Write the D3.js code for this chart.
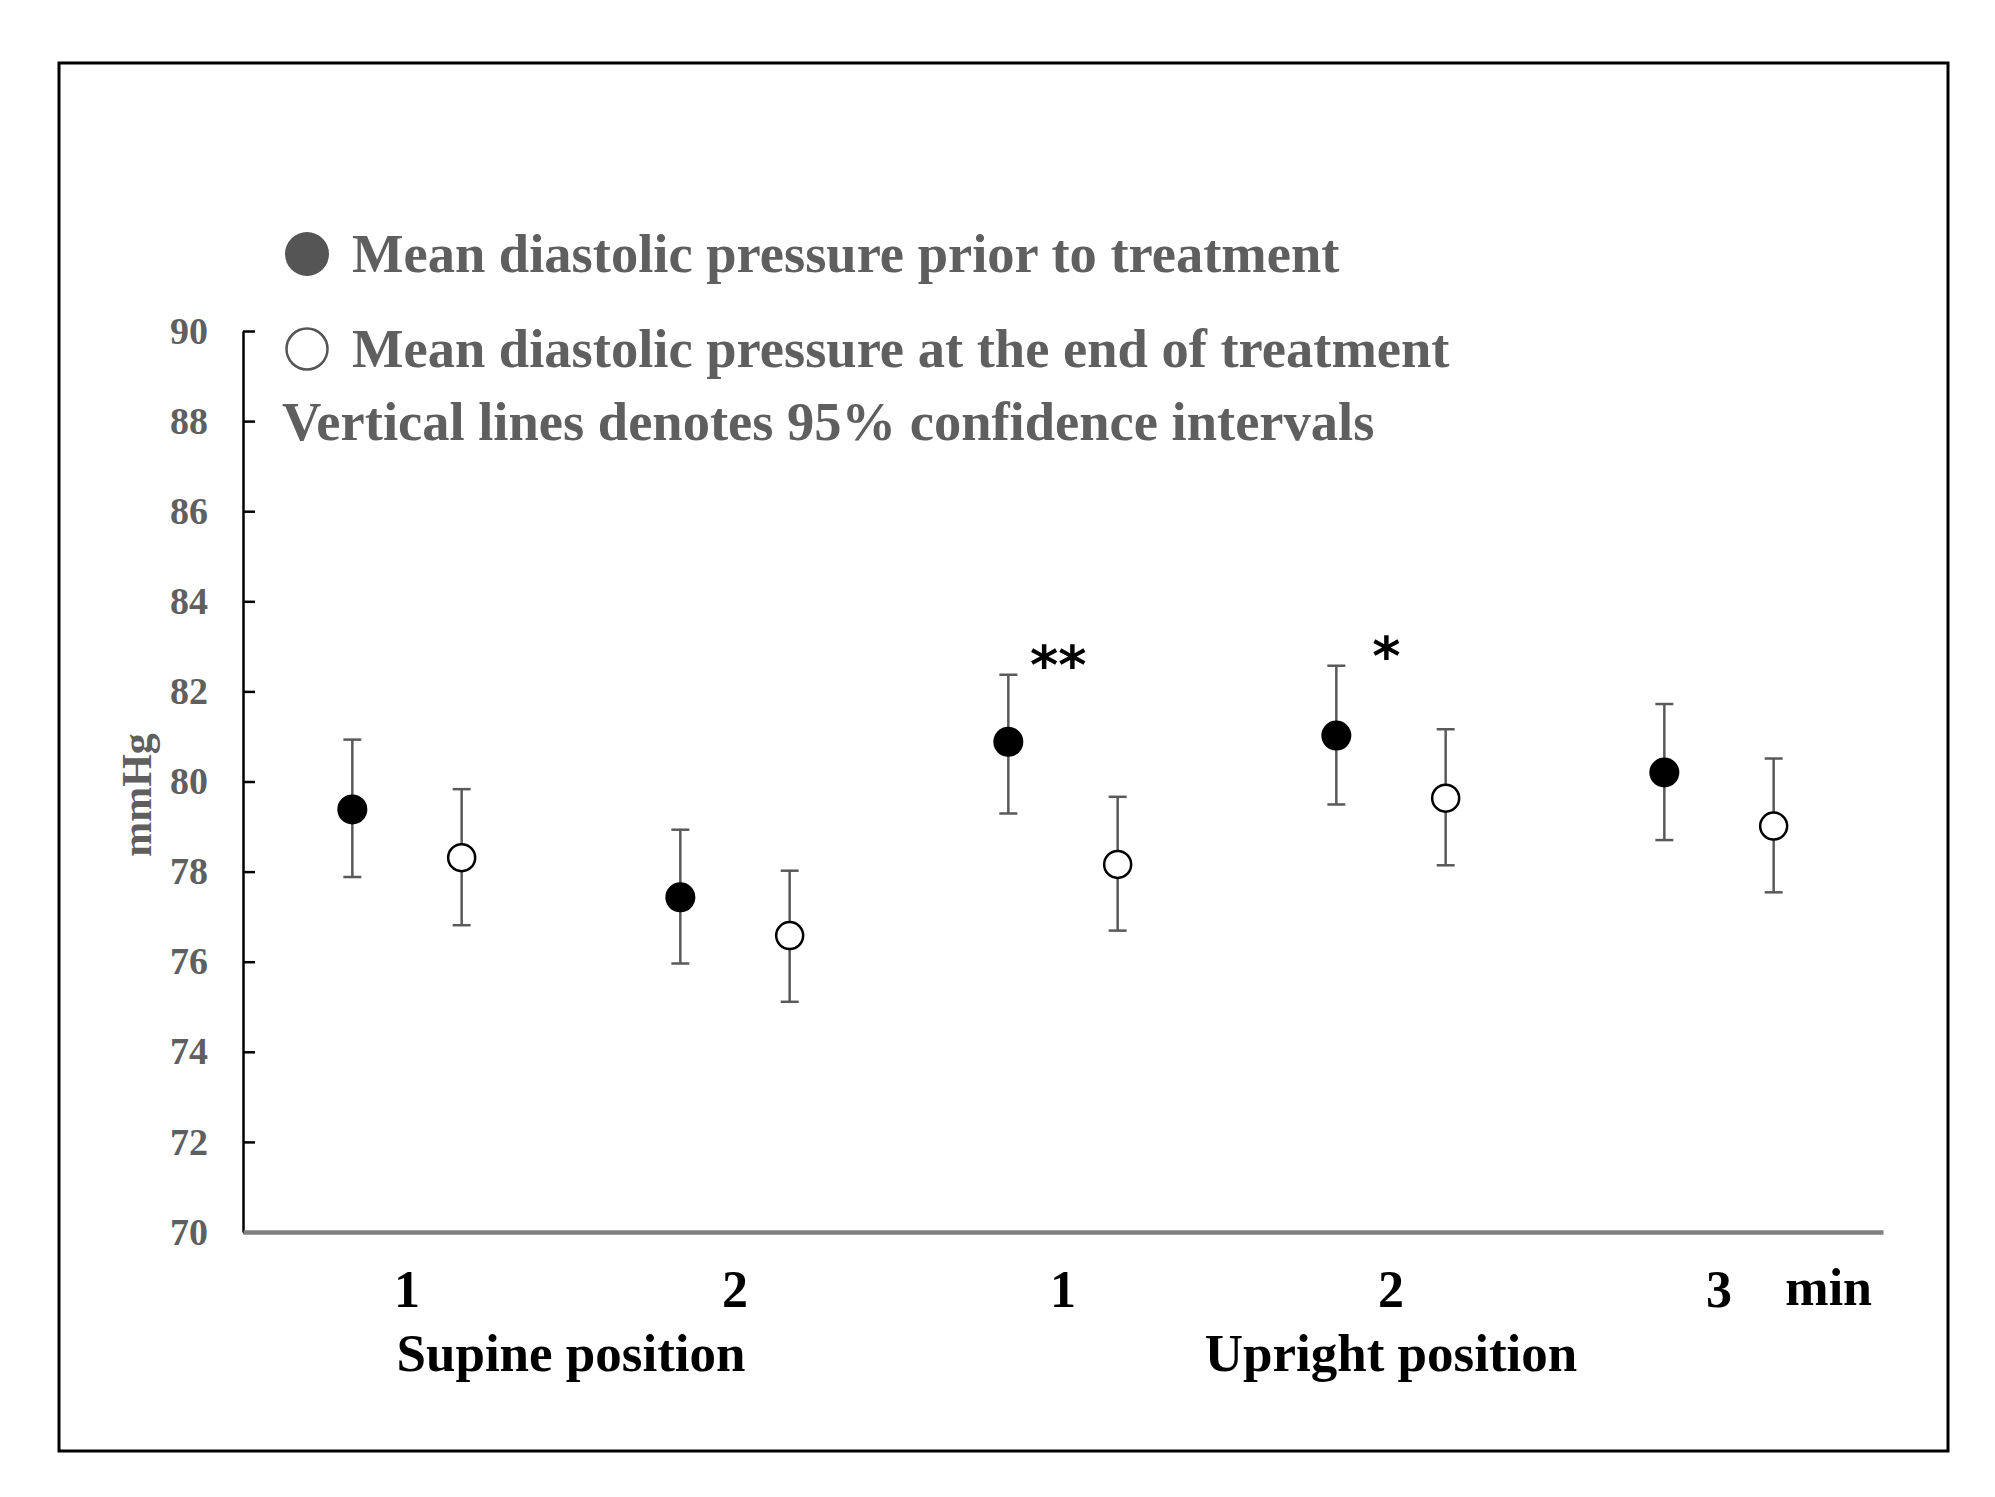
<!DOCTYPE html>
<html>
<head>
<meta charset="utf-8">
<script src="https://cdn.jsdelivr.net/npm/d3@7"></script>
<style>
  body { margin: 0; background: #fff; }
  text { font-family: "Liberation Serif", "Times New Roman", serif; font-weight: bold; }
</style>
</head>
<body>
<div id="chart"></div>
<script>
// data
const timeLabels = ["1", "2", "1", "2", "3"];
const positions = [
    { name: "Supine position", from: 0, to: 1 },
    { name: "Upright position", from: 2, to: 4 }
];
const series = ["before", "after"];
const legendLabels = [
    "Mean diastolic pressure prior to treatment",
    "Mean diastolic pressure at the end of treatment"
];
const legendNote = "Vertical lines denotes 95% confidence intervals";

const meanBefore = [79.38, 77.43, 80.88, 81.02, 80.20];
const lowBefore  = [77.88, 75.96, 79.29, 79.49, 78.70];
const highBefore = [80.93, 78.93, 82.37, 82.57, 81.72];

const meanAfter = [78.31, 76.58, 78.16, 79.63, 79.01];
const lowAfter  = [76.81, 75.11, 76.69, 78.14, 77.54];
const highAfter = [79.83, 78.02, 79.66, 81.16, 80.51];

const significance = ["", "", "**", "*", ""];
const yTicks = [70, 72, 74, 76, 78, 80, 82, 84, 86, 88, 90];

const W = 1995, H = 1497;
const plot = { left: 243, right: 1883, top: 331, bottom: 1232 };

const svg = d3.select("#chart")
    .append("svg")
    .attr("width", W)
    .attr("height", H);

// frame
svg.append("rect")
    .attr("x", 59).attr("y", 63)
    .attr("width", 1889).attr("height", 1388)
    .attr("fill", "none")
    .attr("stroke", "#000")
    .attr("stroke-width", 3);

// scales
const x = d3.scaleBand()
    .domain(d3.range(timeLabels.length))
    .range([plot.left, plot.right]);

const xs = d3.scalePoint()
    .domain(series)
    .range([0, x.bandwidth()])
    .padding(1);

const y = d3.scaleLinear()
    .domain([70, 90])
    .range([plot.bottom, plot.top]);

// y axis
const yAxis = svg.append("g")
    .attr("transform", `translate(${plot.left},0)`)
    .call(d3.axisLeft(y).tickValues(yTicks).tickSizeInner(-12).tickSizeOuter(0).tickPadding(35));
yAxis.select(".domain").attr("stroke", "#000").attr("stroke-width", 2.5);
yAxis.selectAll(".tick line").attr("stroke", "#000").attr("stroke-width", 2.5);
yAxis.selectAll(".tick text")
    .attr("fill", "#5f5f5f")
    .style("font-size", "38px")
    .style("font-family", "Liberation Serif");

// x axis
const xAxis = svg.append("g")
    .attr("transform", `translate(0,${plot.bottom})`)
    .call(d3.axisBottom(x).tickSize(0).tickPadding(38).tickFormat(i => timeLabels[i]));
xAxis.select(".domain").attr("stroke", "#808080").attr("stroke-width", 4.5);
xAxis.selectAll(".tick text")
    .attr("fill", "#000")
    .style("font-size", "52px")
    .style("font-family", "Liberation Serif");

svg.append("text")
    .attr("x", plot.right - 11)
    .attr("y", 1305)
    .attr("text-anchor", "end")
    .attr("fill", "#000")
    .style("font-size", "52px")
    .text("min");

// position labels
svg.selectAll(".pos")
    .data(positions)
    .enter()
    .append("text")
    .attr("class", "pos")
    .attr("x", d => d3.mean(d3.range(d.from, d.to + 1), i => x(i) + x.bandwidth() / 2))
    .attr("y", 1371)
    .attr("text-anchor", "middle")
    .attr("fill", "#000")
    .style("font-size", "53px")
    .text(d => d.name);

// y label
svg.append("text")
    .attr("transform", "translate(151,795) rotate(-90)")
    .attr("text-anchor", "middle")
    .attr("fill", "#5f5f5f")
    .style("font-size", "42px")
    .text("mmHg");

// data
const rows = d3.range(timeLabels.length).flatMap(i => [
    { i, s: "before", m: meanBefore[i], lo: lowBefore[i], hi: highBefore[i] },
    { i, s: "after", m: meanAfter[i], lo: lowAfter[i], hi: highAfter[i] }
]);
const px = d => x(d.i) + xs(d.s);

const bars = svg.append("g")
    .attr("stroke", "#595959")
    .attr("stroke-width", 2.5);

bars.selectAll(".err")
    .data(rows)
    .enter()
    .append("line")
    .attr("x1", px).attr("x2", px)
    .attr("y1", d => y(d.lo)).attr("y2", d => y(d.hi));

bars.selectAll(".capHi")
    .data(rows)
    .enter()
    .append("line")
    .attr("x1", d => px(d) - 9).attr("x2", d => px(d) + 9)
    .attr("y1", d => y(d.hi)).attr("y2", d => y(d.hi));

bars.selectAll(".capLo")
    .data(rows)
    .enter()
    .append("line")
    .attr("x1", d => px(d) - 9).attr("x2", d => px(d) + 9)
    .attr("y1", d => y(d.lo)).attr("y2", d => y(d.lo));

svg.selectAll(".pt")
    .data(rows)
    .enter()
    .append("circle")
    .attr("cx", px)
    .attr("cy", d => y(d.m))
    .attr("r", d => d.s === "before" ? 15 : 13.5)
    .attr("fill", d => d.s === "before" ? "#000" : "#fff")
    .attr("stroke", "#000")
    .attr("stroke-width", d => d.s === "before" ? 0 : 2.5);

// significance marks
svg.selectAll(".sig")
    .data(significance.map((t, i) => ({ t, i })).filter(d => d.t))
    .enter()
    .append("text")
    .attr("x", d => x(d.i) + xs("before") + 50)
    .attr("y", d => y(highBefore[d.i]) + 9)
    .attr("text-anchor", "middle")
    .attr("fill", "#000")
    .style("font-family", "DejaVu Sans")
    .style("font-weight", "bold")
    .style("font-size", "54px")
    .text(d => d.t);

// legend
const legend = svg.append("g");
const legendY = [254, 349];
legend.selectAll("circle")
    .data(legendLabels)
    .enter()
    .append("circle")
    .attr("cx", 307)
    .attr("cy", (d, i) => legendY[i])
    .attr("r", (d, i) => i === 0 ? 22 : 20.5)
    .attr("fill", (d, i) => i === 0 ? "#555" : "#fff")
    .attr("stroke", "#555")
    .attr("stroke-width", (d, i) => i === 0 ? 0 : 2.5);

legend.selectAll("text")
    .data(legendLabels)
    .enter()
    .append("text")
    .attr("x", 352)
    .attr("y", (d, i) => legendY[i] + 18)
    .attr("fill", "#5f5f5f")
    .style("font-size", "54.5px")
    .text(d => d);

legend.append("text")
    .attr("x", 282)
    .attr("y", 440)
    .attr("fill", "#5f5f5f")
    .style("font-size", "54.5px")
    .text(legendNote);
</script>
</body>
</html>
